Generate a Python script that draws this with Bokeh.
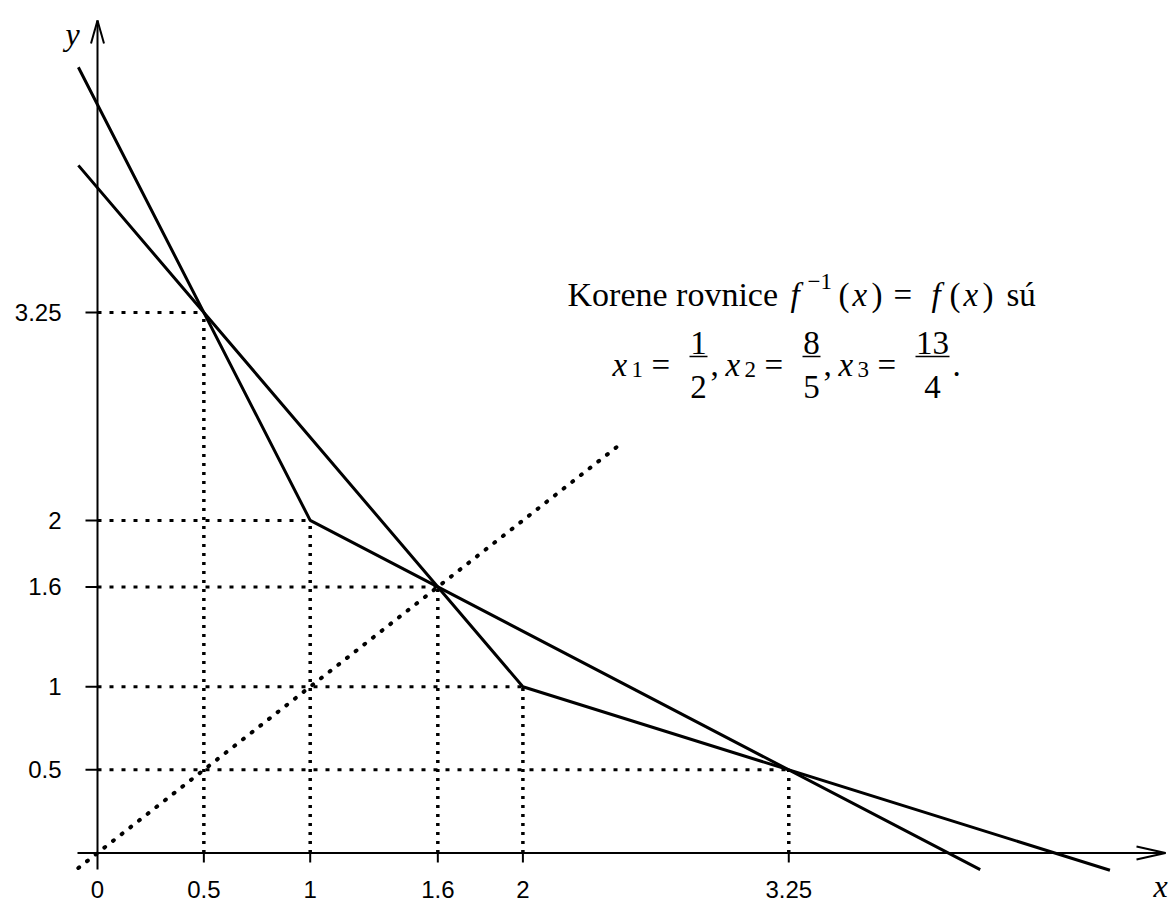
from bokeh.plotting import figure
from bokeh.models import Range1d
from bokeh.core.properties import value
from bokeh.embed import file_html
from bokeh.resources import INLINE

# ---------------- data ----------------
# f (steeper start) : breakpoints
f_x = [-0.09, 1.0, 4.15]
f_y = [4.725, 2.0, -0.1]
# f^-1 : breakpoints
g_x = [-0.09, 2.0, 4.76]
g_y = [4.135, 1.0, -0.104]
# y = x dotted line
diag_x = [-0.09, 2.47]
diag_y = [-0.09, 2.47]
# special points (roots and kinks)
pt_x = [0.5, 1.0, 1.6, 2.0, 3.25]
pt_y = [3.25, 2.0, 1.6, 1.0, 0.5]
# tick labels
x_ticks = [0, 0.5, 1, 1.6, 2, 3.25]
x_tick_labels = ["0", "0.5", "1", "1.6", "2", "3.25"]
y_ticks = [3.25, 2, 1.6, 1, 0.5]
y_tick_labels = ["3.25", "2", "1.6", "1", "0.5"]

# ---------------- geometry ----------------
W, H = 1174, 906
SX, SY = 212.7, 166.3
XS = -97 / SX
XE = XS + W / SX
YE = 852.5 / SY
YS = YE - H / SY


def PX(px):
    return XS + px / SX


def PY(py):
    return YE - py / SY


p = figure(width=W, height=H, x_range=Range1d(XS, XE), y_range=Range1d(YS, YE),
           output_backend="svg", toolbar_location=None, min_border=0,
           x_axis_location=None, y_axis_location=None)
p.grid.visible = False
p.outline_line_color = None
p.background_fill_color = "white"
p.border_fill_color = "white"

K = "black"

# axes
p.segment(x0=[PX(77)], y0=[0], x1=[PX(1165)], y1=[0], line_color=K, line_width=2)
p.segment(x0=[0], y0=[PY(869)], x1=[0], y1=[PY(20)], line_color=K, line_width=2)
# arrowheads
p.segment(x0=[PX(1136), PX(1136)], y0=[PY(846), PY(859)], x1=[PX(1165)] * 2, y1=[0, 0],
          line_color=K, line_width=2)
p.segment(x0=[PX(90.5), PX(103.5)], y0=[PY(43)] * 2, x1=[0, 0], y1=[PY(20)] * 2,
          line_color=K, line_width=2)

# small solid ticks
p.segment(x0=[PX(85)] * len(y_ticks), y0=y_ticks, x1=[0] * len(y_ticks), y1=y_ticks,
          line_color=K, line_width=2)
p.segment(x0=pt_x, y0=[0] * len(pt_x), x1=pt_x, y1=[PY(862)] * len(pt_x),
          line_color=K, line_width=2)

# dotted guides
p.segment(x0=[0] * len(pt_x), y0=pt_y, x1=pt_x, y1=pt_y, line_color=K,
          line_width=3, line_dash="4 8")
p.segment(x0=pt_x, y0=[0] * len(pt_x), x1=pt_x, y1=pt_y, line_color=K,
          line_width=3.5, line_dash="3 6")
p.line(diag_x, diag_y, line_color=K, line_width=4, line_dash="1 10", line_cap="round")

# the two functions
p.line(f_x, f_y, line_color=K, line_width=3)
p.line(g_x, g_y, line_color=K, line_width=3)

# tick labels
SANS = value("Liberation Sans")
p.text(x=x_ticks, y=[PY(889)] * len(x_ticks), text=x_tick_labels, text_font=SANS,
       text_font_size="24px", text_align="center", text_baseline="middle", text_color=K)
p.text(x=[PX(61)] * len(y_ticks), y=y_ticks, text=y_tick_labels, text_font=SANS,
       text_font_size="24px", text_align="right", text_baseline="middle", text_color=K)

SERIF = value("Liberation Serif")


def put(txt, px, py, size=33, style="normal", align="left"):
    p.text(x=[PX(px)], y=[PY(py)], text=[txt], text_font=SERIF, text_font_size=f"{size}px",
           text_font_style=style, text_align=align, text_baseline="alphabetic", text_color=K)


# axis names
put("x", 1160, 885, 32, "italic", "center")
put("y", 72, 33, 32, "italic", "center")

# line 1
B1 = 294
put("Korene rovnice", 567, B1, 34)
put("f", 790, B1, 33, "italic")
put("\u22121", 807, B1 - 13, 23)
put("(", 838, B1, 33)
put("x", 852, B1, 33, "italic")
put(")", 871, B1, 33)
put("=", 893, B1, 33)
put("f", 931, B1, 33, "italic")
put("(", 949, B1, 33)
put("x", 963, B1, 33, "italic")
put(")", 982, B1, 33)
put("s\u00fa", 1006, B1, 33)

# line 2
B2 = 364
BAR = B2 - 8
NUM = B2 - 22
DEN = B2 + 22


def frac(num, den, left, width):
    c = left + width / 2
    put(num, c, NUM, 33, "normal", "center")
    put(den, c, DEN, 33, "normal", "center")
    p.segment(x0=[PX(left)], y0=[PY(BAR)], x1=[PX(left + width)], y1=[PY(BAR)],
              line_color=K, line_width=1.5)


put("x", 612, B2, 33, "italic")
put("1", 631, B2 + 5, 23)
put("=", 651, B2, 33)
frac("1", "2", 689, 18)
put(",", 710, B2, 33)
put("x", 725, B2, 33, "italic")
put("2", 744, B2 + 5, 23)
put("=", 764, B2, 33)
frac("8", "5", 802, 18)
put(",", 823, B2, 33)
put("x", 838, B2, 33, "italic")
put("3", 857, B2 + 5, 23)
put("=", 877, B2, 33)
frac("13", "4", 915, 34)
put(".", 952, B2, 33)

open("out.html", "w").write(file_html(p, INLINE))
